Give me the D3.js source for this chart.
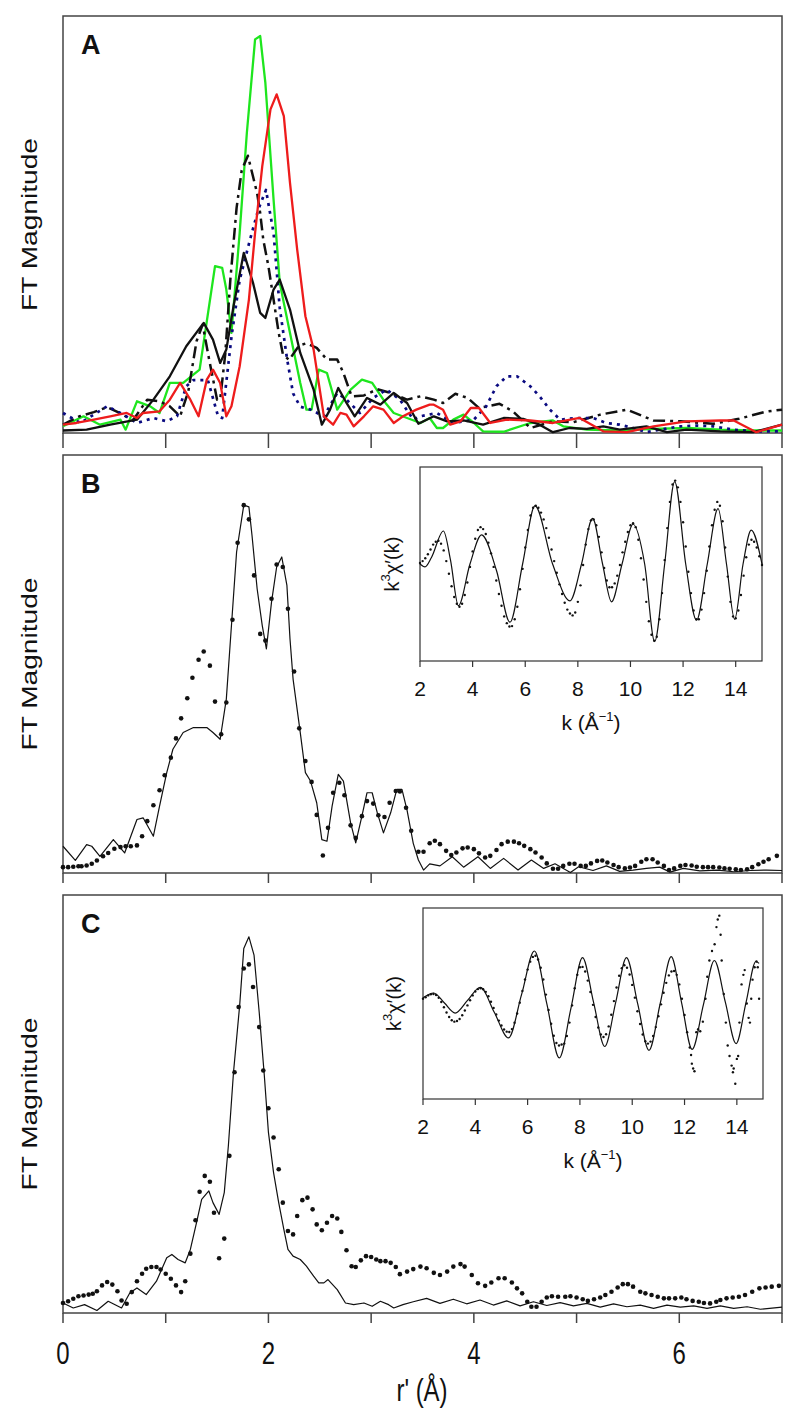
<!DOCTYPE html>
<html>
<head>
<meta charset="utf-8">
<script src="https://cdn.jsdelivr.net/npm/d3@7"></script>
<style>
  body { margin: 0; background: #fff; }
  svg { display: block; }
  text { font-family: "Liberation Sans", Arial, Helvetica, sans-serif; fill: #111; }
</style>
</head>
<body>
<svg id="chart" width="800" height="1428"></svg>
<script>
// ---- panel A : FT magnitude curves, [r' (A), magnitude] ----
const aGreen = [[0,.016],[0.20,.04],[0.36,.02],[0.56,.032],[0.61,.008],[0.72,.076],[0.85,.064],[0.94,.048],[1.04,.12],[1.17,.12],[1.33,.152],[1.48,.40],[1.55,.396],[1.59,.344],[1.64,.24],[1.72,.48],[1.79,.72],[1.87,.944],[1.92,.952],[1.97,.84],[2.05,.56],[2.11,.36],[2.21,.24],[2.31,.12],[2.37,.056],[2.42,.056],[2.49,.152],[2.57,.144],[2.67,.056],[2.80,.104],[2.91,.128],[3.01,.12],[3.14,.072],[3.22,.048],[3.35,.036],[3.48,.024],[3.57,.036],[3.64,.012],[3.70,.012],[3.80,.032],[3.90,.044],[4.00,.024],[4.09,.004],[4.29,.003],[4.55,.024],[4.77,.03],[4.87,.016],[5.10,.008],[5.42,.006],[5.75,.01],[6.07,.012],[6.40,.008],[6.72,.006],[7.0,.006]];
const aRed = [[0,.02],[0.13,.024],[0.30,.032],[0.46,.04],[0.62,.048],[0.72,.036],[0.78,.048],[0.94,.052],[1.04,.08],[1.14,.12],[1.24,.08],[1.32,.04],[1.40,.128],[1.46,.152],[1.53,.12],[1.59,.04],[1.64,.064],[1.72,.16],[1.81,.32],[1.87,.48],[1.94,.64],[2.02,.776],[2.08,.812],[2.15,.76],[2.21,.60],[2.28,.44],[2.36,.28],[2.44,.20],[2.54,.04],[2.63,.02],[2.70,.048],[2.76,.044],[2.83,.016],[2.93,.04],[3.02,.064],[3.12,.056],[3.22,.024],[3.31,.04],[3.44,.056],[3.57,.068],[3.61,.068],[3.70,.056],[3.77,.02],[3.87,.028],[3.97,.06],[4.05,.06],[4.16,.024],[4.32,.032],[4.55,.03],[4.77,.024],[5.03,.036],[5.26,.004],[5.49,.002],[5.75,.016],[6.07,.028],[6.40,.03],[6.53,.03],[6.75,.002],[7.0,.02]];
const aBlack = [[0,.006],[0.23,.008],[0.46,.02],[0.72,.032],[0.88,.08],[1.04,.136],[1.20,.208],[1.37,.264],[1.46,.224],[1.53,.168],[1.59,.20],[1.66,.304],[1.76,.432],[1.85,.36],[1.92,.288],[1.97,.276],[2.05,.344],[2.11,.368],[2.21,.296],[2.31,.192],[2.44,.104],[2.52,.02],[2.60,.056],[2.68,.108],[2.76,.072],[2.84,.04],[2.96,.084],[3.09,.068],[3.22,.096],[3.35,.072],[3.46,.022],[3.61,.04],[3.74,.028],[3.90,.03],[4.09,.02],[4.29,.036],[4.48,.034],[4.64,.02],[4.77,.002],[4.93,.012],[5.10,.01],[5.26,.016],[5.42,.008],[5.68,.016],[5.88,.002],[6.07,.008],[6.40,.004],[6.72,.002],[7.0,.02]];
const aDashDot = [[0,.02],[0.16,.04],[0.30,.05],[0.43,.062],[0.55,.048],[0.68,.03],[0.82,.08],[0.94,.076],[1.04,.064],[1.14,.04],[1.22,.10],[1.30,.22],[1.36,.26],[1.42,.18],[1.50,.08],[1.53,.08],[1.58,.19],[1.63,.37],[1.69,.54],[1.74,.63],[1.80,.665],[1.85,.615],[1.89,.575],[1.92,.527],[1.95,.463],[2.00,.40],[2.05,.32],[2.10,.24],[2.14,.19],[2.20,.175],[2.30,.21],[2.37,.215],[2.47,.204],[2.57,.176],[2.67,.176],[2.73,.144],[2.81,.088],[2.93,.09],[3.06,.105],[3.19,.096],[3.35,.08],[3.48,.088],[3.61,.08],[3.70,.072],[3.82,.094],[3.94,.084],[4.05,.06],[4.25,.07],[4.38,.052],[4.55,.012],[4.77,.028],[4.97,.026],[5.23,.044],[5.49,.056],[5.75,.03],[6.01,.028],[6.33,.022],[6.58,.034],[6.84,.051],[7.0,.056]];
const aNavy = [[0,.048],[0.17,.024],[0.43,.064],[0.59,.044],[0.72,.024],[0.88,.036],[1.01,.028],[1.11,.04],[1.20,.112],[1.27,.127],[1.41,.127],[1.51,.04],[1.55,.036],[1.64,.23],[1.72,.367],[1.82,.463],[1.90,.535],[1.976,.583],[2.05,.48],[2.11,.30],[2.18,.18],[2.24,.095],[2.31,.063],[2.41,.056],[2.54,.04],[2.67,.096],[2.76,.08],[2.89,.048],[3.02,.084],[3.15,.104],[3.28,.08],[3.41,.032],[3.48,.04],[3.64,.048],[3.80,.024],[4.00,.032],[4.12,.064],[4.22,.112],[4.32,.136],[4.42,.136],[4.55,.112],[4.64,.088],[4.74,.056],[4.84,.032],[5.00,.036],[5.16,.036],[5.29,.024],[5.42,.02],[5.55,.012],[5.68,.002],[5.81,.008],[6.01,.016],[6.17,.018],[6.33,.016],[6.53,.008],[6.72,.004],[7.0,.004]];

// ---- panel B : fit (line) and data (dots) ----
const bFit = [[0,.064],[0.12,.03],[0.23,.068],[0.28,.064],[0.36,.04],[0.49,.08],[0.60,.048],[0.72,.128],[0.78,.132],[0.88,.088],[0.94,.16],[1.01,.24],[1.07,.296],[1.17,.336],[1.27,.348],[1.40,.348],[1.46,.336],[1.53,.32],[1.59,.416],[1.64,.592],[1.69,.768],[1.76,.88],[1.81,.876],[1.84,.808],[1.89,.68],[1.94,.592],[1.98,.536],[2.03,.648],[2.08,.732],[2.13,.756],[2.18,.688],[2.21,.56],[2.24,.464],[2.31,.336],[2.36,.24],[2.41,.22],[2.47,.168],[2.52,.08],[2.57,.076],[2.62,.16],[2.68,.236],[2.73,.22],[2.80,.12],[2.85,.072],[2.91,.136],[2.96,.192],[3.01,.192],[3.06,.144],[3.12,.096],[3.19,.144],[3.25,.20],[3.30,.20],[3.35,.15],[3.41,.071],[3.46,.031],[3.51,.007],[3.57,.022],[3.67,.017],[3.79,.039],[3.90,.014],[4.04,.039],[4.16,.011],[4.29,.035],[4.43,.007],[4.56,.031],[4.68,.011],[4.79,.022],[4.94,.001],[5.02,.015],[5.16,.006],[5.29,.017],[5.42,.004],[5.55,.007],[5.68,.011],[5.81,.014],[5.91,.002],[6.04,.011],[6.20,.005],[6.37,.007],[6.53,.003],[6.69,.006],[6.85,.007],[7.0,.006]];
const bData = [[0,.014],[0.05,.014],[0.10,.015],[0.15,.016],[0.18,.016],[0.23,.018],[0.28,.022],[0.33,.03],[0.39,.04],[0.44,.048],[0.50,.058],[0.56,.062],[0.61,.064],[0.66,.064],[0.72,.066],[0.77,.088],[0.82,.124],[0.88,.162],[0.94,.198],[0.99,.234],[1.05,.276],[1.10,.322],[1.15,.37],[1.21,.418],[1.26,.467],[1.32,.51],[1.37,.53],[1.43,.496],[1.48,.41],[1.54,.332],[1.59,.408],[1.65,.606],[1.70,.79],[1.76,.88],[1.81,.846],[1.86,.712],[1.92,.572],[1.97,.556],[2.03,.656],[2.08,.738],[2.14,.732],[2.19,.632],[2.25,.482],[2.30,.346],[2.36,.268],[2.42,.218],[2.47,.139],[2.53,.042],[2.58,.108],[2.63,.192],[2.69,.216],[2.74,.186],[2.80,.114],[2.85,.084],[2.91,.136],[2.96,.172],[3.02,.166],[3.07,.138],[3.13,.134],[3.18,.168],[3.24,.196],[3.28,.195],[3.34,.156],[3.39,.101],[3.46,.051],[3.51,.051],[3.57,.071],[3.62,.077],[3.67,.069],[3.73,.053],[3.78,.043],[3.83,.049],[3.89,.059],[3.94,.061],[4.00,.057],[4.05,.047],[4.11,.037],[4.16,.041],[4.22,.055],[4.27,.069],[4.33,.075],[4.39,.075],[4.44,.071],[4.49,.065],[4.55,.057],[4.60,.049],[4.66,.037],[4.71,.023],[4.77,.01],[4.82,.01],[4.87,.017],[4.93,.022],[4.98,.022],[5.04,.017],[5.09,.017],[5.14,.023],[5.20,.029],[5.25,.03],[5.30,.025],[5.36,.019],[5.41,.014],[5.47,.011],[5.52,.013],[5.57,.017],[5.63,.027],[5.68,.033],[5.74,.033],[5.79,.025],[5.85,.017],[5.90,.007],[5.95,.011],[6.01,.017],[6.06,.019],[6.12,.018],[6.17,.015],[6.23,.014],[6.28,.014],[6.33,.014],[6.39,.013],[6.44,.011],[6.49,.01],[6.55,.009],[6.60,.007],[6.66,.009],[6.71,.014],[6.77,.021],[6.82,.027],[6.87,.033],[6.95,.041]];

// ---- panel C : fit (line) and data (dots) ----
const cFit = [[0,.024],[0.10,.012],[0.21,.02],[0.33,.006],[0.44,.028],[0.57,.012],[0.65,.048],[0.72,.06],[0.81,.044],[0.91,.076],[1.01,.132],[1.06,.14],[1.12,.128],[1.19,.12],[1.24,.152],[1.30,.216],[1.35,.272],[1.42,.292],[1.46,.264],[1.52,.236],[1.57,.288],[1.61,.40],[1.66,.576],[1.72,.736],[1.76,.872],[1.81,.90],[1.86,.856],[1.91,.72],[1.96,.568],[2.00,.432],[2.05,.336],[2.10,.264],[2.15,.20],[2.19,.152],[2.24,.136],[2.31,.128],[2.37,.112],[2.44,.088],[2.49,.072],[2.54,.072],[2.58,.08],[2.67,.056],[2.75,.024],[2.83,.02],[2.93,.024],[3.01,.016],[3.09,.028],[3.17,.02],[3.22,.012],[3.31,.02],[3.41,.027],[3.54,.035],[3.67,.023],[3.80,.033],[3.93,.022],[4.06,.031],[4.19,.019],[4.32,.029],[4.45,.017],[4.58,.027],[4.71,.018],[4.84,.025],[4.97,.017],[5.10,.023],[5.23,.014],[5.36,.022],[5.49,.015],[5.62,.019],[5.75,.011],[5.88,.019],[6.01,.014],[6.14,.017],[6.27,.011],[6.40,.017],[6.53,.011],[6.66,.015],[6.79,.009],[7.0,.014]];
const cData = [[0,.024],[0.05,.028],[0.10,.034],[0.15,.04],[0.20,.042],[0.25,.044],[0.29,.046],[0.33,.052],[0.38,.066],[0.43,.074],[0.48,.068],[0.53,.052],[0.57,.03],[0.62,.022],[0.67,.05],[0.72,.076],[0.77,.094],[0.81,.106],[0.86,.11],[0.91,.11],[0.95,.104],[1.00,.094],[1.05,.082],[1.10,.066],[1.15,.05],[1.19,.076],[1.24,.142],[1.29,.222],[1.33,.29],[1.38,.328],[1.43,.314],[1.47,.24],[1.52,.131],[1.57,.178],[1.62,.376],[1.67,.576],[1.71,.732],[1.76,.824],[1.81,.834],[1.85,.78],[1.91,.684],[1.95,.58],[2.00,.49],[2.05,.42],[2.10,.344],[2.14,.264],[2.19,.196],[2.24,.188],[2.28,.232],[2.33,.27],[2.38,.276],[2.43,.248],[2.47,.212],[2.52,.198],[2.57,.216],[2.62,.232],[2.67,.226],[2.71,.194],[2.76,.15],[2.81,.112],[2.85,.11],[2.90,.126],[2.95,.136],[3.00,.134],[3.05,.128],[3.09,.124],[3.14,.124],[3.19,.12],[3.24,.11],[3.28,.093],[3.35,.099],[3.41,.105],[3.48,.111],[3.54,.107],[3.61,.096],[3.67,.091],[3.74,.099],[3.80,.111],[3.87,.117],[3.91,.111],[3.98,.091],[4.04,.071],[4.11,.065],[4.17,.073],[4.24,.083],[4.30,.083],[4.37,.073],[4.42,.059],[4.47,.047],[4.52,.027],[4.56,.015],[4.61,.015],[4.66,.027],[4.71,.037],[4.76,.04],[4.82,.039],[4.89,.039],[4.94,.04],[5.00,.037],[5.06,.033],[5.11,.029],[5.17,.033],[5.23,.037],[5.28,.043],[5.34,.051],[5.40,.061],[5.45,.069],[5.50,.069],[5.55,.063],[5.62,.051],[5.67,.047],[5.73,.043],[5.79,.039],[5.85,.035],[5.90,.035],[5.96,.035],[6.02,.037],[6.07,.033],[6.13,.029],[6.19,.027],[6.24,.024],[6.30,.023],[6.36,.027],[6.40,.031],[6.46,.035],[6.52,.037],[6.58,.039],[6.64,.043],[6.71,.051],[6.78,.059],[6.84,.061],[6.90,.063],[6.97,.065]];

// ---- insets : k^3 chi(k), [k (1/A), relative amplitude] ----
const insBFit = [[2.00,0],[2.19,-.03],[2.44,.07],[2.89,.34],[3.16,.04],[3.46,-.43],[3.90,0],[4.34,.30],[4.91,-.07],[5.42,-.60],[5.90,0],[6.37,.60],[7.04,0],[7.70,-.38],[8.14,0],[8.56,.47],[8.94,0],[9.28,-.39],[9.68,0],[10.10,.41],[10.54,0],[10.92,-.80],[11.30,0],[11.68,.85],[12.10,0],[12.51,-.58],[12.92,0],[13.33,.57],[13.65,0],[13.96,-.57],[14.28,0],[14.59,.35],[15.0,0]];
const insBData = [[2.0,.01],[2.1,.03],[2.2,.06],[2.3,.10],[2.4,.15],[2.5,.20],[2.6,.23],[2.7,.24],[2.8,.21],[2.9,.14],[3.0,.03],[3.1,-.10],[3.2,-.23],[3.3,-.34],[3.4,-.41],[3.5,-.44],[3.6,-.41],[3.7,-.32],[3.8,-.19],[3.9,-.03],[4.0,.13],[4.1,.26],[4.2,.35],[4.3,.38],[4.4,.36],[4.5,.31],[4.6,.22],[4.7,.11],[4.8,-.03],[4.9,-.17],[5.0,-.31],[5.1,-.43],[5.2,-.54],[5.3,-.61],[5.4,-.645],[5.5,-.64],[5.6,-.57],[5.7,-.44],[5.8,-.26],[5.9,-.05],[6.0,.17],[6.1,.35],[6.2,.50],[6.3,.58],[6.4,.60],[6.5,.58],[6.6,.53],[6.7,.46],[6.8,.37],[6.9,.27],[7.0,.15],[7.1,.03],[7.2,-.09],[7.3,-.21],[7.4,-.31],[7.5,-.40],[7.6,-.47],[7.7,-.51],[7.8,-.53],[7.9,-.50],[8.0,-.39],[8.1,-.22],[8.2,-.01],[8.3,.20],[8.4,.36],[8.5,.45],[8.6,.46],[8.7,.40],[8.8,.28],[8.9,.12],[9.0,-.04],[9.1,-.17],[9.2,-.24],[9.3,-.24],[9.4,-.20],[9.5,-.12],[9.6,-.01],[9.7,.12],[9.8,.23],[9.9,.33],[10.0,.40],[10.1,.42],[10.2,.38],[10.3,.25],[10.4,.06],[10.5,-.16],[10.6,-.39],[10.7,-.59],[10.8,-.73],[10.9,-.79],[11.0,-.75],[11.1,-.57],[11.2,-.30],[11.3,.04],[11.4,.37],[11.5,.64],[11.6,.82],[11.7,.86],[11.8,.79],[11.9,.64],[12.0,.43],[12.1,.18],[12.2,-.08],[12.3,-.30],[12.4,-.48],[12.5,-.57],[12.6,-.57],[12.7,-.47],[12.8,-.30],[12.9,-.07],[13.0,.18],[13.1,.40],[13.2,.56],[13.3,.64],[13.4,.60],[13.5,.44],[13.6,.17],[13.7,-.13],[13.8,-.39],[13.9,-.54],[14.0,-.56],[14.1,-.48],[14.2,-.32],[14.3,-.12],[14.4,.07],[14.5,.20],[14.6,.25],[14.7,.23],[14.8,.17],[14.9,.08],[15.0,-.01]];
const insCFit = [[2.00,.06],[2.41,.11],[2.82,.005],[3.23,-.10],[3.71,.035],[4.19,.17],[4.73,-.095],[5.27,-.36],[5.77,.095],[6.26,.55],[6.74,-.01],[7.21,-.57],[7.66,-.045],[8.10,.48],[8.52,.015],[8.95,-.45],[9.37,.015],[9.78,.48],[10.21,-.005],[10.64,-.49],[11.07,0],[11.49,.49],[11.89,.005],[12.29,-.48],[12.72,-.015],[13.14,.45],[13.56,.015],[13.97,-.42],[14.35,.01],[14.73,.44],[14.85,.42]];
const insCData = [[2.0,.05],[2.1,.065],[2.2,.085],[2.3,.097],[2.4,.10],[2.5,.089],[2.6,.059],[2.7,.015],[2.8,-.04],[2.9,-.094],[3.0,-.141],[3.1,-.175],[3.2,-.19],[3.3,-.184],[3.4,-.162],[3.5,-.123],[3.6,-.074],[3.7,-.02],[3.8,.034],[3.9,.085],[4.0,.125],[4.1,.151],[4.2,.16],[4.3,.15],[4.4,.122],[4.5,.076],[4.6,.018],[4.7,-.046],[4.8,-.114],[4.9,-.179],[5.0,-.231],[5.1,-.272],[5.2,-.295],[5.3,-.298],[5.4,-.268],[5.5,-.202],[5.6,-.105],[5.7,.009],[5.8,.132],[5.9,.252],[6.0,.355],[6.1,.438],[6.2,.488],[6.3,.50],[6.4,.461],[6.5,.374],[6.6,.251],[6.7,.093],[6.8,-.067],[6.9,-.212],[7.0,-.337],[7.1,-.413],[7.2,-.44],[7.3,-.43],[7.4,-.42],[7.5,-.34],[7.6,-.20],[7.7,-.02],[7.8,.16],[7.9,.30],[8.0,.38],[8.1,.383],[8.2,.335],[8.3,.24],[8.4,.121],[8.5,-.014],[8.6,-.141],[8.7,-.252],[8.8,-.325],[8.9,-.35],[9.0,-.322],[9.1,-.24],[9.2,-.118],[9.3,.025],[9.4,.168],[9.5,.29],[9.6,.37],[9.7,.40],[9.8,.375],[9.9,.304],[10.0,.195],[10.1,.061],[10.2,-.081],[10.3,-.215],[10.4,-.324],[10.5,-.395],[10.6,-.42],[10.7,-.399],[10.8,-.34],[10.9,-.247],[11.0,-.133],[11.1,-.009],[11.2,.112],[11.3,.216],[11.4,.294],[11.5,.335],[11.6,.34],[11.7,.30],[11.8,.20],[11.9,.05],[12.0,-.12],[12.1,-.30],[12.2,-.46],[12.25,-.54],[12.28,-.63],[12.33,-.68],[12.38,-.71],[12.45,-.30],[12.52,-.27],[12.6,-.29],[12.7,-.19],[12.8,.05],[12.87,.28],[12.95,.45],[13.05,.55],[13.15,.62],[13.22,.80],[13.27,.88],[13.33,.92],[13.38,.72],[13.42,.45],[13.5,.10],[13.58,-.20],[13.65,-.44],[13.72,-.55],[13.8,-.65],[13.85,-.72],[13.88,-.68],[13.94,-.84],[14.0,-.58],[14.05,-.55],[14.1,-.20],[14.18,.20],[14.25,.30],[14.3,.35],[14.38,0],[14.45,-.15],[14.5,-.20],[14.55,.05],[14.6,.25],[14.68,.38],[14.75,.44],[14.8,.38],[14.85,.05]];

const rTicks = [0, 1, 2, 3, 4, 5, 6, 7];
const rTickLabels = [0, 2, 4, 6];
const kTicks = [2, 4, 6, 8, 10, 12, 14];

const svg = d3.select("#chart");
const x = d3.scaleLinear().domain([0, 7]).range([63, 782]);

function panel(top, bottom, letter, tickLen) {
  const y = d3.scaleLinear().domain([0, 1]).range([bottom, top]);
  const g = svg.append("g");
  g.append("rect")
    .attr("x", x(0)).attr("y", top)
    .attr("width", x(7) - x(0)).attr("height", bottom - top)
    .attr("fill", "none").attr("stroke", "#444").attr("stroke-width", 1.5);
  g.selectAll(".tick").data(rTicks).enter().append("line")
    .attr("x1", d => x(d)).attr("x2", d => x(d))
    .attr("y1", bottom).attr("y2", bottom + tickLen)
    .attr("stroke", "#444").attr("stroke-width", 1.5);
  g.append("text")
    .attr("x", 81).attr("y", top + 38)
    .attr("font-size", 27).attr("font-weight", "bold")
    .text(letter);
  g.append("text")
    .attr("transform", `translate(37,${(top + bottom) / 2}) rotate(-90)`)
    .attr("text-anchor", "middle")
    .attr("font-size", 22)
    .attr("textLength", 173).attr("lengthAdjust", "spacingAndGlyphs")
    .text("FT Magnitude");
  return { g, y };
}

function addLine(p, data, color, width, dash) {
  const line = d3.line().x(d => x(d[0])).y(d => p.y(d[1]));
  p.g.append("path").datum(data)
    .attr("d", line)
    .attr("fill", "none")
    .attr("stroke", color)
    .attr("stroke-width", width)
    .attr("stroke-linejoin", "round")
    .attr("stroke-dasharray", dash || null);
}

function addDots(p, data, r) {
  p.g.selectAll(null).data(data).enter().append("circle")
    .attr("cx", d => x(d[0])).attr("cy", d => p.y(d[1]))
    .attr("r", r).attr("fill", "#111");
}

function inset(p, x0, x1, y0, y1, fit, dots, yLabelX) {
  const kx = d3.scaleLinear().domain([2, 15]).range([x0, x1]);
  const ky = d3.scaleLinear().domain([-1, 1]).range([y1, y0]);
  const g = p.g.append("g");
  g.append("rect")
    .attr("x", x0).attr("y", y0).attr("width", x1 - x0).attr("height", y1 - y0)
    .attr("fill", "#fff").attr("stroke", "#333").attr("stroke-width", 1.2);
  g.selectAll(null).data(kTicks).enter().append("line")
    .attr("x1", d => kx(d)).attr("x2", d => kx(d))
    .attr("y1", y1).attr("y2", y1 + 6)
    .attr("stroke", "#333").attr("stroke-width", 1.2);
  g.selectAll(null).data(kTicks).enter().append("text")
    .attr("x", d => kx(d)).attr("y", y1 + 35)
    .attr("text-anchor", "middle").attr("font-size", 21)
    .text(d => d);
  const kl = g.append("text")
    .attr("x", (x0 + x1) / 2).attr("y", y1 + 69)
    .attr("text-anchor", "middle").attr("font-size", 21);
  kl.append("tspan").text("k (Å");
  kl.append("tspan").attr("font-size", 13).attr("dy", -9).text("−1");
  kl.append("tspan").attr("dy", 9).text(")");
  const yl = g.append("text")
    .attr("transform", `translate(${yLabelX},${(y0 + y1) / 2}) rotate(-90)`)
    .attr("text-anchor", "middle").attr("font-size", 20);
  yl.append("tspan").text("k");
  yl.append("tspan").attr("font-size", 13).attr("dy", -9).text("3");
  yl.append("tspan").attr("dy", 9).text("χ′(k)");

  g.append("path").datum(fit)
    .attr("d", d3.line().x(d => kx(d[0])).y(d => ky(d[1])).curve(d3.curveMonotoneX))
    .attr("fill", "none").attr("stroke", "#111").attr("stroke-width", 1.2);
  g.selectAll(null).data(dots).enter().append("circle")
    .attr("cx", d => kx(d[0])).attr("cy", d => ky(d[1]))
    .attr("r", 1.2).attr("fill", "#111");
}

// panel A
const pA = panel(16, 433, "A", 15);
addLine(pA, aGreen, "#1ee61e", 2.3);
addLine(pA, aDashDot, "#111", 2.5, "12,5,3,5");
addLine(pA, aNavy, "#0a0a80", 2.7, "3,5");
addLine(pA, aBlack, "#111", 2.3);
addLine(pA, aRed, "#ee1c1c", 2.3);

// panel B
const pB = panel(455, 873, "B", 10);
addLine(pB, bFit, "#111", 1.2);
addDots(pB, bData, 2.3);
inset(pB, 420, 762, 467, 661, insBFit, insBData, 399);

// panel C
const pC = panel(895, 1313, "C", 10);
addLine(pC, cFit, "#111", 1.2);
addDots(pC, cData, 2.3);
inset(pC, 423, 763, 908, 1099, insCFit, insCData, 401);

// shared bottom axis labels
svg.selectAll(null).data(rTickLabels).enter().append("text")
  .attr("transform", d => `translate(${x(d)},1364) scale(1,1.3)`)
  .attr("text-anchor", "middle").attr("font-size", 24)
  .text(d => d);
svg.append("text")
  .attr("transform", "translate(422,1401) scale(1,1.3)")
  .attr("text-anchor", "middle").attr("font-size", 24)
  .text("r' (Å)");
</script>
</body>
</html>
